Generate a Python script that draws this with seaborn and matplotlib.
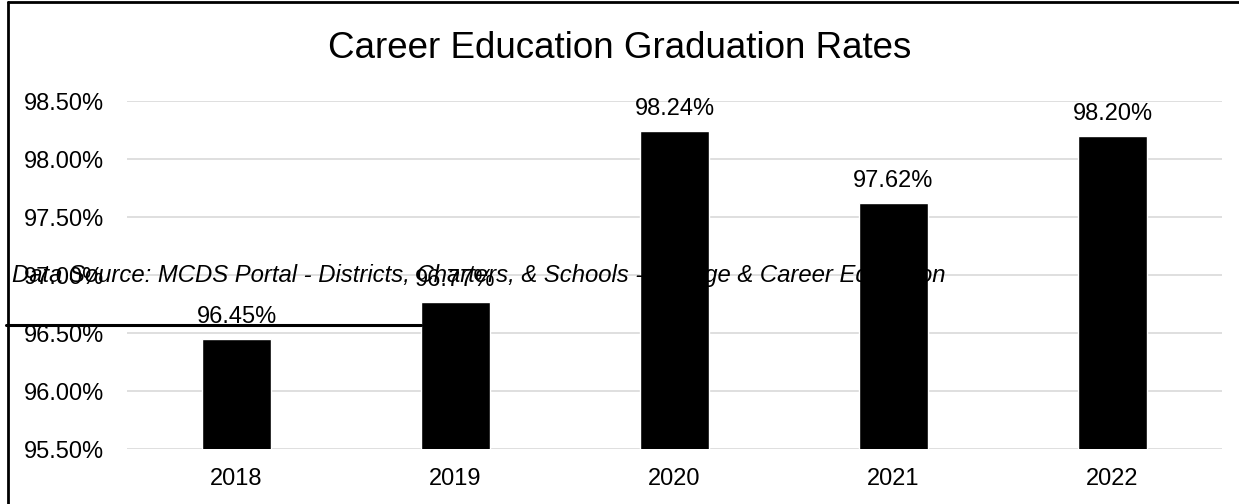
import matplotlib
matplotlib.use('Agg')
import matplotlib.pyplot as plt
import seaborn as sns
import pandas as pd
from matplotlib.lines import Line2D
from matplotlib.ticker import FuncFormatter

# values
years = ['2018', '2019', '2020', '2021', '2022']
rates = [96.45, 96.77, 98.24, 97.62, 98.20]
yticks = [95.5, 96.0, 96.5, 97.0, 97.5, 98.0, 98.5]

df = pd.DataFrame({'year': years, 'rate': rates})

sns.set_style('white')
plt.rcParams['font.family'] = ['Liberation Sans', 'DejaVu Sans']
plt.rcParams['text.color'] = 'black'

fig = plt.figure(figsize=(12.39, 5.04), dpi=100)
ax = fig.add_axes([127 / 1239, 1 - 449 / 504, 1095 / 1239, 348 / 504])

sns.barplot(data=df, x='year', y='rate', color='black', width=0.315,
            saturation=1, ax=ax, zorder=3)

ax.set_ylim(95.5, 98.5)
ax.set_xlim(-0.5, 4.5)
ax.set_yticks(yticks)
ax.yaxis.set_major_formatter(FuncFormatter(lambda v, p: f'{v:.2f}%'))
ax.grid(axis='y', color='#d9d9d9', linewidth=1.2, zorder=0)
ax.grid(axis='x', visible=False)
for s in ax.spines.values():
    s.set_visible(False)
ax.tick_params(axis='both', length=0, labelsize=17, colors='black')
ax.tick_params(axis='y', pad=16.5)
ax.tick_params(axis='x', pad=14)
ax.set_xlabel('')
ax.set_ylabel('')

# data labels
for i, v in enumerate(rates):
    ax.annotate(f'{v:.2f}%', (i, v), xytext=(0, 8), textcoords='offset points',
                ha='center', va='bottom', fontsize=17, color='black')

fig.text(0.5, 1 - 58 / 504, 'Career Education Graduation Rates', ha='center',
         va='baseline', fontsize=26.5, color='black')

# source note drawn over the plot, as in the original
fig.text(12 / 1239, 1 - 282 / 504,
         'Data Source: MCDS Portal - Districts, Charters, & Schools - College & Career Education',
         style='italic', fontsize=17.2, va='baseline', ha='left', color='black')

# stray rule and frame lines
fig.add_artist(Line2D([6 / 1239, 421 / 1239], [1 - 325 / 504] * 2, color='black', lw=2.2))
fig.add_artist(Line2D([8 / 1239, 8 / 1239], [0, 1 - 2 / 504], color='black', lw=2))
fig.add_artist(Line2D([8 / 1239, 1], [1 - 2 / 504] * 2, color='black', lw=2))

fig.savefig('out.png', dpi=100)
